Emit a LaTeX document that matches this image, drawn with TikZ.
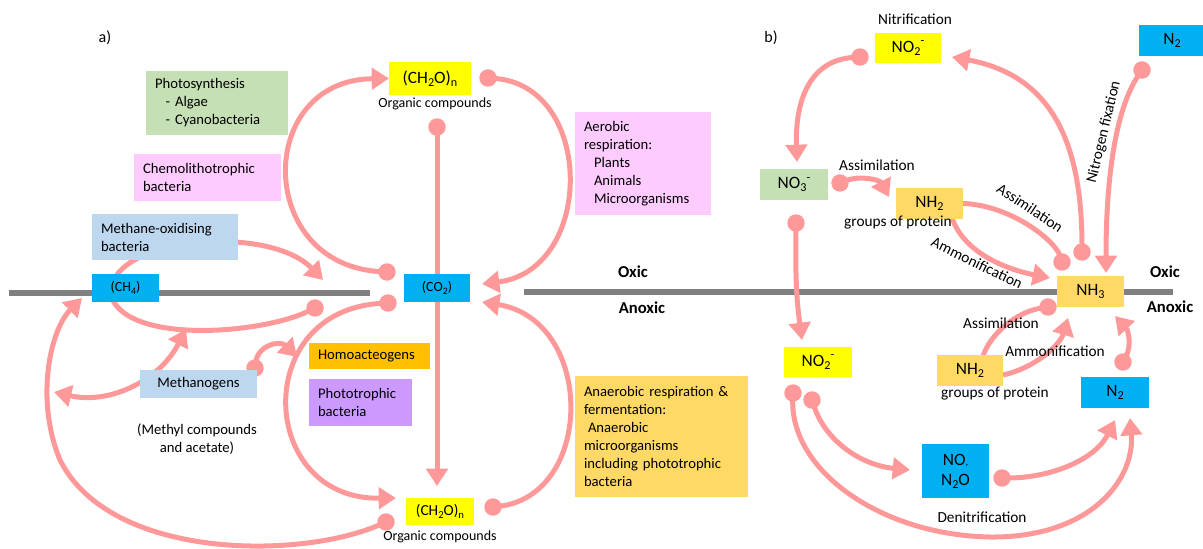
\documentclass[tikz,border=0pt]{standalone}
\usepackage{fontspec}
\setmainfont{Carlito}
\usepackage{graphicx}
\usetikzlibrary{arrows.meta}
\pgfdeclarelayer{bg}
\pgfsetlayers{bg,main}
\definecolor{arr}{HTML}{FF9999}
\definecolor{cgreen}{HTML}{C5E0B4}
\definecolor{cpink}{HTML}{FDCBFD}
\definecolor{cblue}{HTML}{BDD7EE}
\definecolor{ccyan}{HTML}{00B0F0}
\definecolor{cyel}{HTML}{FFFF00}
\definecolor{corange}{HTML}{FFC000}
\definecolor{cpurple}{HTML}{CC99FF}
\definecolor{cgold}{HTML}{FFD966}
\definecolor{cline}{HTML}{808080}
\newcommand\mysub[1]{\raisebox{-0.35ex}{\scalebox{0.7}{#1}}}
\newcommand\mysup[1]{\raisebox{0.9ex}{\scalebox{0.7}{#1}}}
\tikzset{
  box/.style={rectangle, inner sep=0pt, outer sep=0pt},
  fa/.style={font=\fontsize{11}{13.5}\selectfont},
  tbox/.style n args={3}{box, fa, fill=#1, text width=#2, minimum height=#3, align=left, inner xsep=6.75pt},
  cbox/.style n args={3}{box, fill=#1, minimum width=#2, minimum height=#3, align=center},
  lbl/.style={inner sep=0pt, font=\fontsize{11}{13.5}\selectfont},
  lblb/.style={inner sep=0pt, font=\fontsize{11.5}{14}\selectfont},
  zone/.style={inner sep=0pt, font=\fontsize{12.5}{15}\selectfont\bfseries},
  con/.style={draw=arr, line width=3.75pt},
  ct/.style={con, {Circle[length=13pt]}-{Triangle[length=13pt,width=16pt]}, shorten <=-6.5pt},
  ta/.style={con, -{Triangle[length=13pt,width=16pt]}},
  tt/.style={con, {Triangle[length=13pt,width=16pt]}-{Triangle[length=13pt,width=16pt]}},
  cn/.style={con, {Circle[length=13pt]}-, shorten <=-6.5pt},
  nc/.style={con, -{Circle[length=13pt]}, shorten >=-6.5pt},
  sepline/.style={draw=cline, line width=4pt}
}
\begin{document}
\begin{tikzpicture}[x=0.75pt,y=-0.75pt]
\useasboundingbox (0,0) rectangle (1203,549);

% ---------- panel a ----------
\node[lbl, font=\fontsize{12}{14}\selectfont] (alab) at (105,38) {a)};
\node[tbox={cgreen}{93pt}{48pt}] (photo) at (217,103) {Photosynthesis\\\hspace*{8pt}- Algae\\\hspace*{8pt}- Cyanobacteria};
\node[tbox={cpink}{96.75pt}{35.25pt}] (chemo) at (207.5,177.5) {Chemolithotrophic\\bacteria};
\node[tbox={cblue}{96pt}{34.5pt}] (methox) at (165,237) {Methane-oxidising\\bacteria};
\node[cbox={ccyan}{50.25pt}{21pt}, font=\fontsize{10.5}{12}\selectfont] (ch4) at (125.5,288) {(CH\mysub{4})};
\node[cbox={ccyan}{49.5pt}{21pt}, font=\fontsize{10.5}{12}\selectfont] (co2) at (437,288) {(CO\mysub{2})};
\node[cbox={cyel}{61.5pt}{24.75pt}, font=\fontsize{13}{15}\selectfont] (ch2otop) at (430,78.5) {(CH\mysub{2}O)\mysub{n}};
\node[lbl, font=\fontsize{10.5}{12}\selectfont] (org1) at (435,104) {Organic compounds};
\node[tbox={cpink}{88.5pt}{77.25pt}] (aerob) at (643,163.5) {Aerobic\\respiration:\\\hspace*{7.5pt}Plants\\\hspace*{7.5pt}Animals\\\hspace*{7.5pt}Microorganisms};
\node[tbox={corange}{77.25pt}{19.5pt}] (homo) at (369.5,356) {Homoacteogens};
\node[tbox={cpurple}{63.75pt}{35.25pt}] (photob) at (360.5,402.5) {Phototrophic\\bacteria};
\node[cbox={cblue}{87.75pt}{21pt}, fa] (methan) at (198.5,384) {Methanogens};
\node[lbl, align=center] (methyl) at (197,439) {(Methyl compounds\\and acetate)};
\node[cbox={cyel}{51pt}{20.25pt}, font=\fontsize{11.5}{13}\selectfont] (ch2obot) at (440,511.5) {(CH\mysub{2}O)\mysub{n}};
\node[lbl, font=\fontsize{10.5}{12}\selectfont] (org2) at (440,537) {Organic compounds};
\node[tbox={cgold}{116.25pt}{90.75pt}] (anaer) at (661.5,436.5) {Anaerobic respiration \&\\fermentation:\\\hspace*{3pt}Anaerobic\\microorganisms\\including phototrophic\\bacteria};
\node[zone] (ox1) at (633,272) {Oxic};
\node[zone] (ax1) at (642,308) {Anoxic};

% ---------- panel b ----------
\node[lbl, font=\fontsize{12}{14}\selectfont] (blab) at (771,38) {b)};
\node[lblb] (nitri) at (915,19) {Nitrification};
\node[cbox={cyel}{49.5pt}{22.5pt}, font=\fontsize{13}{15}\selectfont] (no2top) at (908,48) {NO\mysub{2}\mysup{-}};
\node[cbox={ccyan}{49.5pt}{23.25pt}, font=\fontsize{13}{15}\selectfont] (n2top) at (1172,40.5) {N\mysub{2}};
\node[cbox={cgreen}{51pt}{23.25pt}, font=\fontsize{13}{15}\selectfont] (no3) at (794,184.5) {NO\mysub{3}\mysup{-}};
\node[cbox={cgold}{50.25pt}{23.25pt}, font=\fontsize{13}{15}\selectfont] (nh2up) at (929.5,203.5) {NH\mysub{2}};
\node[lblb] (gp1) at (898,223) {groups of protein};
\node[lblb] (assim1) at (877,165) {Assimilation};
\node[lblb, rotate=-33.5] (assim2) at (1030,208) {Assimilation};
\node[lblb, rotate=-26] (ammon1) at (977,263) {Ammonification};
\node[lblb, rotate=76.5] (nfix) at (1104,132) {Nitrogen fixation};
\node[cbox={cgold}{50.25pt}{23.25pt}, font=\fontsize{13}{15}\selectfont] (nh3) at (1090.5,291.5) {NH\mysub{3}};
\node[cbox={cyel}{51pt}{22.5pt}, font=\fontsize{13}{15}\selectfont] (no2low) at (818,362) {NO\mysub{2}\mysup{-}};
\node[cbox={cgold}{49.5pt}{23.25pt}, font=\fontsize{13}{15}\selectfont] (nh2low) at (970,370.5) {NH\mysub{2}};
\node[lblb] (gp2) at (995,394) {groups of protein};
\node[lblb] (assim3) at (1001,323) {Assimilation};
\node[lblb] (ammon2) at (1055,351) {Ammonification};
\node[cbox={ccyan}{51pt}{23.25pt}, font=\fontsize{13}{15}\selectfont] (n2low) at (1115,392.5) {N\mysub{2}};
\node[cbox={ccyan}{50.25pt}{40.5pt}, font=\fontsize{13}{15}\selectfont] (nobox) at (955.5,471) {NO{\scalebox{0.6}{,}}\\N\mysub{2}O};
\node[lblb] (denit) at (982,517) {Denitrification};
\node[zone] (ox2) at (1165,272) {Oxic};
\node[zone] (ax2) at (1170,307) {Anoxic};

% ---------- free ends ----------
\coordinate (a1s) at (387,272);
\coordinate (a2s) at (488,78);  \coordinate (a2e) at (482,284);
\coordinate (a3s) at (437,127); \coordinate (a3e) at (437,486);
\coordinate (a4s) at (493,507); \coordinate (a4e) at (482,302);
\coordinate (a5s) at (388,303); \coordinate (a5e) at (396,498);
\coordinate (a6s) at (315,308); \coordinate (a6e) at (323,280);
\coordinate (a7l) at (54,392);  \coordinate (a7r) at (186,329);
\coordinate (a8s) at (255,368); \coordinate (a8e) at (297,357);
\coordinate (a9s) at (386,522); \coordinate (a9e) at (82,298);
\coordinate (b1s) at (860,57);  \coordinate (b1e) at (797,162);
\coordinate (b2s) at (1082,252); \coordinate (b2e) at (952,57);
\coordinate (b3s) at (1142,70); \coordinate (b3e) at (1106,273);
\coordinate (b4s) at (840,183); \coordinate (b4e) at (889,197);
\coordinate (b5e) at (1062,262);
\coordinate (b6s) at (952,218); \coordinate (b6e) at (1050,278);
\coordinate (b7s) at (796,223); \coordinate (b7e) at (802,340);
\coordinate (b8s) at (1048,307); \coordinate (b8e) at (983,356);
\coordinate (b9s) at (1003,375); \coordinate (b9e) at (1068,318);
\coordinate (b10s) at (1123,362); \coordinate (b10e) at (1115,316);
\coordinate (b11s) at (793,393); \coordinate (b11e) at (1130,418);
\coordinate (b12s) at (812,400); \coordinate (b12e) at (910,470);
\coordinate (b13s) at (1002,478); \coordinate (b13e) at (1115,420);
\coordinate (l1a) at (9,293);   \coordinate (l1b) at (370,293);
\coordinate (l2a) at (524,292); \coordinate (l2b) at (1173,292);

\begin{pgfonlayer}{bg}
\draw[sepline] (l1a) -- (l1b);
\draw[sepline] (l2a) -- (l2b);
% panel a
\draw[ct] (a1s) .. controls (255,265) and (255,80) .. (ch2otop.west);
\draw[ct] (a2s) .. controls (595,85) and (595,270) .. (a2e);
\draw[ct] (a3s) -- (a3e);
\draw[ct] (a4s) .. controls (595,495) and (595,320) .. (a4e);
\draw[ct] (a5s) .. controls (250,310) and (258,500) .. (a5e);
\draw[ct] (a6s) .. controls (260,335) and (120,345) .. (110,292) .. controls (115,235) and (270,225) .. (a6e);
\draw[tt] (a7l) .. controls (110,405) and (160,380) .. (a7r);
\draw[ct] (a8s) .. controls (258,345) and (280,340) .. (a8e);
\draw[ct] (a9s) .. controls (300,560) and (110,560) .. (60,460) .. controls (35,400) and (50,330) .. (a9e);
% panel b
\draw[ct] (b1s) .. controls (810,60) and (795,100) .. (b1e);
\draw[ct] (b2s) .. controls (1082,140) and (1050,75) .. (b2e);
\draw[ct] (b3s) .. controls (1115,110) and (1106,180) .. (b3e);
\draw[ct] (b4s) .. controls (860,175) and (880,180) .. (b4e);
\draw[nc] (nh2up.east) .. controls (1010,205) and (1055,240) .. (b5e);
\draw[ta] (b6s) .. controls (965,255) and (1010,270) .. (b6e);
\draw[ct] (b7s) .. controls (795,290) and (798,310) .. (b7e);
\draw[cn] (b8s) .. controls (1015,312) and (990,335) .. (b8e);
\draw[ta] (b9s) .. controls (1035,368) and (1060,345) .. (b9e);
\draw[ct] (b10s) .. controls (1132,345) and (1128,330) .. (b10e);
\draw[ct] (b11s) .. controls (790,470) and (880,535) .. (990,537) .. controls (1090,538) and (1135,480) .. (b11e);
\draw[ct] (b12s) .. controls (825,440) and (860,465) .. (b12e);
\draw[ct] (b13s) .. controls (1050,478) and (1095,460) .. (b13e);
\end{pgfonlayer}
\end{tikzpicture}
\end{document}
